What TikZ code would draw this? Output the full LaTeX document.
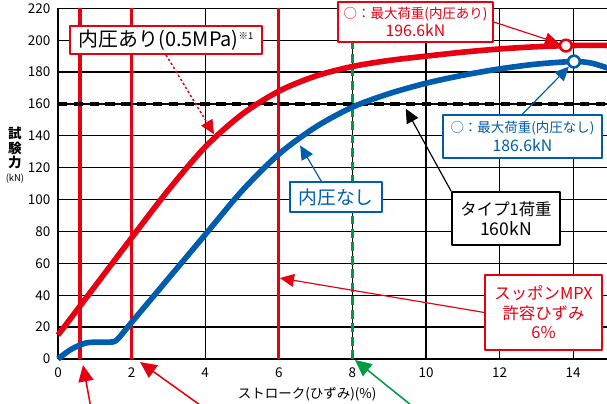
\documentclass[tikz,border=0pt]{standalone}
\usepackage{fontspec}
\setmainfont{Noto Sans CJK JP}
\usetikzlibrary{arrows.meta,calc}
\definecolor{jred}{RGB}{230,0,18}
\definecolor{jblue}{RGB}{0,92,172}
\definecolor{jgreen}{RGB}{0,153,68}
\begin{document}
\begin{tikzpicture}[x=1.104cm,y=0.04782cm,line join=round,>={Triangle[length=12pt,width=11pt]},
  gridline/.style={line width=1.1pt},
  lbl/.style={draw,fill=white,line width=1.4pt,align=center,inner sep=0pt},
  peak/.style={circle,draw,fill=white,line width=2.2pt,inner sep=0pt,minimum size=10pt},
  bigtip/.style={>={Triangle[length=14pt,width=13pt]}}]
\useasboundingbox (-1.576,-27.6) rectangle (14.918,225.22);
\clip (-1.576,-27.6) rectangle (14.918,225.22);
% grid
\foreach \i in {0,2,...,14} \draw[gridline] (\i,0) -- (\i,220);
\foreach \j in {0,20,...,220} \draw[gridline] (0,\j) -- (15,\j);
\foreach \j in {0,20,...,220} \node[anchor=east,inner sep=0pt,font=\fontsize{11.5}{12}\selectfont] at (-0.2,\j) {\j};
\foreach \i in {0,2,...,14} \node[inner sep=0pt,font=\fontsize{11.5}{12}\selectfont] at (\i,-8.8) {\i};
\node[font=\bfseries\fontsize{11.5}{12}\selectfont,align=center] (yTitle) at (-1.17,132.4) {試\\験\\力};
\node[font=\fontsize{8}{9}\selectfont] (yUnit) at (-1.17,113) {(kN)};
\node[font=\fontsize{11.5}{12}\selectfont] (xTitle) at (6.77,-22) {ストローク(ひずみ)(\%)};
% limit lines
\foreach \i in {0.6,2,6} \draw[jred,line width=2.8pt] (\i,0) -- (\i,220);
\draw[jgreen,line width=3.2pt,dash pattern=on 7.5pt off 4pt] (8,0) -- (8,220);
\draw[line width=2.8pt,dash pattern=on 8pt off 5.5pt] (0,160) -- (15,160);
% curves
\draw[jred,line width=4.8pt] plot[smooth] coordinates {(0,15) (1,45.5) (2,76) (3,106) (4,133) (5,153.5) (6,168) (7,177.5) (8,183.5) (9,187.3) (10,190) (11,192.5) (12,194.5) (13,195.9) (14,196.7) (15,196.7)};
\draw[jblue,line width=4.8pt] plot[smooth] coordinates {(0,0) (0.35,6) (0.75,10) (1.1,10.6) (1.4,10.6) (1.6,12) (2,23) (3,50.5) (4,78) (5,105.5) (6,128.5) (7,145.5) (8,158) (9,166.5) (10,173) (11,178) (12,182) (13,185) (14,186.6) (14.5,185.6) (15,182)};
\node[peak,draw=jred] (peakR) at (13.8,196.6) {};
\node[peak,draw=jblue] (peakB) at (14.02,186.6) {};
% labels
\node[lbl,draw=jred,minimum width=5.76cm,minimum height=0.84cm,font=\fontsize{17}{19}\selectfont] (pressLbl) at (2.935,200.1) {内圧あり(0.5MPa)\raisebox{0.6ex}{\fontsize{8}{8}\selectfont ※1}};
\node[lbl,draw=jred,text=jred,minimum width=4.65cm,minimum height=1.2cm,font=\fontsize{11.5}{16}\selectfont] (maxRed) at (9.715,211.4) {○：最大荷重(内圧あり)\\{\fontsize{13.5}{16}\selectfont 196.6kN}};
\node[lbl,draw=jblue,text=jblue,minimum width=4.77cm,minimum height=1.29cm,font=\fontsize{11.5}{16}\selectfont] (maxBlue) at (12.62,139.6) {○：最大荷重(内圧なし)\\{\fontsize{13.5}{16}\selectfont 186.6kN}};
\node[lbl,draw=jblue,text=jblue,minimum width=2.76cm,minimum height=0.9cm,font=\fontsize{16}{18}\selectfont] (noPress) at (7.554,101.6) {内圧なし};
\node[lbl,draw=black,line width=1.6pt,minimum width=3.24cm,minimum height=1.59cm,font=\fontsize{14}{17}\selectfont] (type1) at (12.174,88.1) {タイプ1荷重\\{\fontsize{15}{17}\selectfont 160kN}};
\node[lbl,draw=jred,text=jred,minimum width=3.51cm,minimum height=2.25cm,font=\fontsize{14}{16.5}\selectfont] (strain) at (13.193,29.2) {スッポンMPX\\許容ひずみ\\6\%};
% arrows
\coordinate (pressTip) at (4.24,141);
\coordinate (noPressTip) at (6.58,134);
\coordinate (type1Tip) at (9.45,157);
\coordinate (strainTip) at (6.03,50.8);
\coordinate (ax06) at (0.68,-3.8);
\coordinate (ax06src) at (0.905,-32);
\coordinate (ax2) at (2.23,-1.9);
\coordinate (ax2src) at (4.05,-32);
\coordinate (ax8) at (8.07,-0.6);
\coordinate (ax8src) at (9.76,-32);
\draw[jred,line width=1.3pt,dash pattern=on 2pt off 2pt,->] (pressLbl.south) -- (pressTip);
\draw[jred,line width=1pt,->] (maxRed.east) -- (peakR);
\draw[jblue,line width=1pt,->] (maxBlue.north) -- (peakB);
\draw[jblue,line width=1pt,->] ($(noPress.north)+(-0.4,0)$) -- (noPressTip);
\draw[line width=1pt,->] (type1.north west) -- (type1Tip);
\draw[jred,line width=1pt,->] (strain.west) -- (strainTip);
\draw[jred,line width=1.3pt,bigtip,->] (ax06src) -- (ax06);
\draw[jred,line width=1.3pt,bigtip,->] (ax2src) -- (ax2);
\draw[jgreen,line width=1.3pt,bigtip,->] (ax8src) -- (ax8);
\end{tikzpicture}
\end{document}
